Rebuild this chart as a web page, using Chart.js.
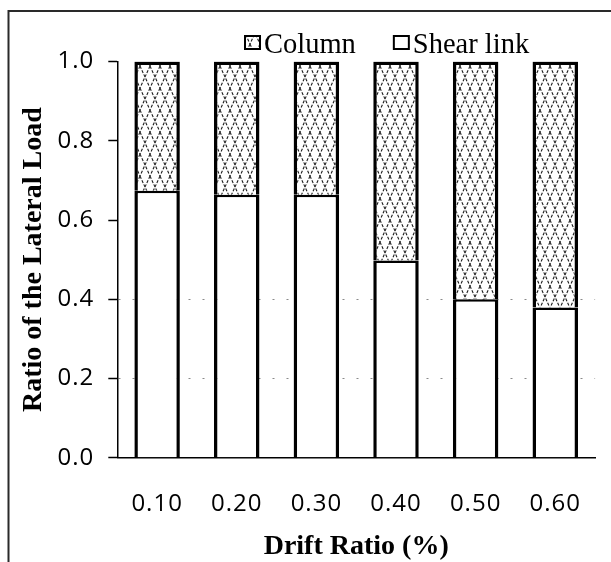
<!DOCTYPE html>
<html>
<head>
<meta charset="utf-8">
<script src="https://cdn.jsdelivr.net/npm/chart.js@4.4.1/dist/chart.umd.min.js"></script>
<style>
  html, body { margin: 0; padding: 0; background: #fff; }
  canvas { display: block; }
</style>
</head>
<body>
<canvas id="c" width="611" height="562"></canvas>
<script>
// Share of the lateral load carried by each member, per drift ratio
const driftRatios = ['0.10', '0.20', '0.30', '0.40', '0.50', '0.60'];
const shearLinkShare = [0.674, 0.664, 0.664, 0.498, 0.400, 0.379];
const columnShare    = [0.326, 0.336, 0.336, 0.502, 0.600, 0.621];
const yTickStep = 0.2;
const dottedGridValues = [0.2, 0.4];

const serif = '"Liberation Serif", "Times New Roman", Times, serif';
const sans = '"Open Sans", "Noto Sans", sans-serif';

// Dashed diamond lattice used for the column share
function makeLattice() {
  const w = 10, h = 22;
  const tile = document.createElement('canvas');
  tile.width = w; tile.height = h;
  const g = tile.getContext('2d');
  g.fillStyle = '#fff';
  g.fillRect(0, 0, w, h);
  g.strokeStyle = '#1e1e1e';
  g.lineWidth = 1.1;
  g.setLineDash([3, 1.6]);
  g.beginPath();
  g.moveTo(0, 0); g.lineTo(w, h);
  g.moveTo(w, 0); g.lineTo(0, h);
  g.stroke();
  return g.createPattern(tile, 'repeat');
}
const lattice = makeLattice();

// Thin frame around the whole figure
const framePlugin = {
  id: 'frame',
  beforeDraw(chart) {
    const ctx = chart.ctx;
    ctx.save();
    ctx.strokeStyle = '#2a2a2a';
    ctx.lineWidth = 2;
    ctx.strokeRect(8.5, 11, chart.width + 40, chart.height + 40);
    ctx.restore();
  }
};

// Tick labels are drawn on top (ticks.z = 1) with slight extra tracking
const tickTracking = {
  id: 'tickTracking',
  afterDatasetsDraw(chart) { chart.ctx.letterSpacing = '1px'; },
  afterDraw(chart) { chart.ctx.letterSpacing = '0px'; }
};

// Legend row: swatch + label for each member, drawn in a single line
const legendRow = {
  id: 'legendRow',
  afterDraw(chart) {
    const ctx = chart.ctx;
    const order = [1, 0]; // Column first, then Shear link
    ctx.save();
    ctx.letterSpacing = '0px';
    ctx.font = '28.5px ' + serif;
    ctx.textBaseline = 'alphabetic';
    let x = 245;
    const boxY = 36, boxW = 15, boxH = 13, baseline = 52.5;
    order.forEach((di) => {
      const ds = chart.data.datasets[di];
      ctx.fillStyle = ds.backgroundColor;
      ctx.fillRect(x, boxY, boxW, boxH);
      ctx.strokeStyle = '#000';
      ctx.lineWidth = 2;
      ctx.strokeRect(x, boxY, boxW, boxH);
      ctx.fillStyle = '#000';
      const tx = x + boxW + 4;
      ctx.fillText(ds.label, tx, baseline);
      x = tx + ctx.measureText(ds.label).width + 38;
    });
    ctx.restore();
  }
};

new Chart(document.getElementById('c'), {
  type: 'bar',
  data: {
    labels: driftRatios,
    datasets: [
      {
        label: 'Shear link',
        data: shearLinkShare,
        backgroundColor: '#fff',
        borderColor: '#000',
        borderWidth: { left: 3.5, right: 3.5, top: 2.5, bottom: 0 },
        borderSkipped: false,
        stack: 'load'
      },
      {
        label: 'Column',
        data: columnShare,
        backgroundColor: lattice,
        borderColor: '#000',
        borderWidth: { left: 3.5, right: 3.5, top: 3.5, bottom: 0 },
        borderSkipped: false,
        stack: 'load'
      }
    ]
  },
  options: {
    responsive: false,
    devicePixelRatio: 1,
    animation: false,
    events: [],
    barPercentage: 0.571,
    categoryPercentage: 1,
    layout: { padding: { top: 61.6, right: 0, bottom: 0, left: 0 } },
    plugins: {
      legend: { display: false },
      tooltip: { enabled: false }
    },
    scales: {
      x: {
        stacked: true,
        offset: true,
        grid: { display: false, drawTicks: false },
        border: { display: true, color: '#000', width: 1.5 },
        ticks: {
          z: 1,
          color: '#000',
          padding: 32,
          font: { family: sans, size: 24 }
        },
        title: {
          display: true,
          text: 'Drift Ratio (%)',
          color: '#000',
          font: { family: serif, size: 28, weight: 'bold', lineHeight: 1 },
          padding: { top: 0, bottom: 1 }
        },
        afterFit(scale) { scale.height = 104.3; }
      },
      y: {
        stacked: true,
        min: 0,
        max: 1,
        ticks: {
          z: 1,
          stepSize: yTickStep,
          color: '#000',
          padding: 14,
          font: { family: sans, size: 24 },
          callback: (v) => Number(v).toFixed(1)
        },
        grid: {
          drawOnChartArea: true,
          color: (ctx) => (ctx.tick && dottedGridValues.some(v => Math.abs(v - ctx.tick.value) < 1e-6)) ? '#8a8a8a' : 'rgba(0,0,0,0)',
          lineWidth: 1,
          drawTicks: true,
          tickLength: 9,
          tickColor: '#000',
          tickWidth: 1.5
        },
        border: { display: true, color: '#000', width: 1.5, dash: [2, 12] },
        title: {
          display: true,
          text: 'Ratio of the Lateral Load',
          color: '#000',
          font: { family: serif, size: 28, weight: 'bold', lineHeight: 1 },
          padding: { top: 20, bottom: 0 }
        },
        afterFit(scale) { scale.width = 117.3; }
      }
    }
  },
  plugins: [framePlugin, tickTracking, legendRow]
});
</script>
</body>
</html>
